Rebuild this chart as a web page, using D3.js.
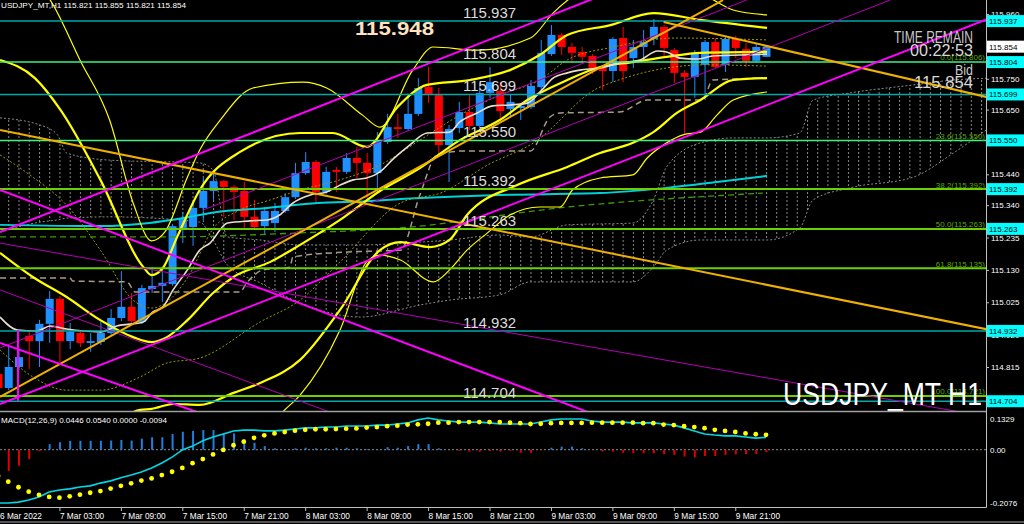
<!DOCTYPE html>
<html>
<head>
<meta charset="utf-8">
<script src="https://cdn.jsdelivr.net/npm/d3@7/dist/d3.min.js"></script>
<style>
html,body{margin:0;padding:0;background:#000;overflow:hidden;}
svg{display:block;font-family:"Liberation Sans",Arial,sans-serif;}
</style>
</head>
<body>
<svg id="chart" width="1024" height="524"></svg>
<script>
// ================= DATA =================
const symbolHeader = "USDJPY_MT,H1  115.821 115.855 115.821 115.854";
const macdHeader = "MACD(12,26,9) 0.0446 0.0540 0.0000 -0.0094";
const opens  = [114.792,114.747,114.815,114.916,114.899,114.955,115.036,114.899,114.925,114.893,114.896,114.925,114.974,115.010,114.961,115.068,115.078,115.084,115.266,115.269,115.331,115.386,115.418,115.399,115.386,115.302,115.272,115.282,115.321,115.366,115.444,115.480,115.383,115.454,115.448,115.493,115.477,115.444,115.545,115.593,115.587,115.636,115.723,115.697,115.535,115.590,115.642,115.597,115.704,115.710,115.652,115.655,115.658,115.723,115.830,115.892,115.853,115.837,115.824,115.785,115.775,115.882,115.817,115.853,115.879,115.918,115.843,115.769,115.756,115.795,115.869,115.795,115.879,115.846,115.808,115.821];
const highs  = [114.805,114.880,114.870,114.935,114.968,115.062,115.045,114.958,114.935,114.925,114.964,115.003,115.126,115.055,115.081,115.139,115.139,115.279,115.318,115.350,115.428,115.441,115.422,115.405,115.415,115.357,115.334,115.347,115.379,115.477,115.512,115.486,115.464,115.464,115.509,115.529,115.509,115.577,115.636,115.636,115.701,115.752,115.788,115.720,115.600,115.675,115.697,115.739,115.788,115.739,115.697,115.665,115.746,115.876,115.924,115.898,115.866,115.853,115.830,115.795,115.885,115.918,115.876,115.908,115.944,115.924,115.850,115.778,115.843,115.876,115.882,115.889,115.889,115.866,115.866,115.855];
const lows   = [114.734,114.740,114.805,114.809,114.815,114.893,114.831,114.873,114.880,114.864,114.886,114.919,114.964,114.958,114.955,115.055,115.026,115.078,115.217,115.208,115.292,115.357,115.302,115.292,115.266,115.266,115.243,115.253,115.315,115.360,115.438,115.350,115.376,115.383,115.441,115.428,115.363,115.383,115.538,115.558,115.580,115.629,115.671,115.506,115.415,115.574,115.584,115.590,115.688,115.623,115.626,115.616,115.652,115.713,115.824,115.827,115.804,115.804,115.765,115.713,115.739,115.739,115.785,115.811,115.859,115.817,115.736,115.568,115.688,115.681,115.785,115.772,115.817,115.788,115.804,115.821];
const closes = [114.747,114.815,114.847,114.899,114.955,115.036,114.899,114.929,114.893,114.899,114.925,114.974,115.010,114.964,115.071,115.078,115.088,115.272,115.298,115.331,115.386,115.418,115.399,115.383,115.302,115.269,115.321,115.321,115.366,115.444,115.480,115.383,115.448,115.448,115.493,115.477,115.444,115.551,115.593,115.587,115.636,115.720,115.701,115.535,115.587,115.642,115.597,115.704,115.739,115.645,115.675,115.662,115.727,115.834,115.892,115.853,115.834,115.821,115.782,115.775,115.879,115.775,115.853,115.869,115.918,115.850,115.769,115.756,115.834,115.869,115.788,115.879,115.850,115.808,115.853,115.854];

const timeTickIdx = [0,6,12,18,24,30,36,42,48,54,60,66,72];
const timeTickLabels = ["6 Mar 2022","7 Mar 03:00","7 Mar 09:00","7 Mar 15:00","7 Mar 21:00","8 Mar 03:00","8 Mar 09:00","8 Mar 15:00","8 Mar 21:00","9 Mar 03:00","9 Mar 09:00","9 Mar 15:00","9 Mar 21:00"];
const priceTicks = [115.960,115.750,115.650,115.440,115.340,115.235,115.130,115.025,114.920,114.815];
const currentPrice = 115.854;
const srLevels = [115.937,115.804,115.699,115.550,115.392,115.263,114.932,114.704];
const fiboLevels = [115.806,115.550,115.392,115.263,115.135,114.721];
const fiboNames  = ["0.0","23.6","38.2","50.0","61.8","100.0"];
const dayHigh = 115.948;
const timeRemain = "00:22:53";
const macdAxisVals = [0.1329, 0.00, -0.2076];
const macdAxisLabels = ["0.1329","0.00","-0.2076"];

const macdMain = [-0.193,-0.193,-0.190,-0.182,-0.171,-0.153,-0.146,-0.142,-0.135,-0.131,-0.121,-0.113,-0.102,-0.092,-0.081,-0.066,-0.048,-0.027,-0.001,0.013,0.032,0.046,0.057,0.068,0.071,0.071,0.068,0.068,0.071,0.075,0.079,0.079,0.082,0.082,0.086,0.086,0.086,0.089,0.089,0.093,0.097,0.108,0.115,0.108,0.104,0.100,0.100,0.100,0.097,0.093,0.093,0.093,0.093,0.100,0.108,0.111,0.111,0.111,0.104,0.100,0.100,0.100,0.097,0.097,0.097,0.093,0.089,0.079,0.068,0.057,0.053,0.050,0.050,0.046,0.042,0.0446];
const macdSignal = [-0.095,-0.116,-0.136,-0.152,-0.164,-0.171,-0.174,-0.169,-0.163,-0.156,-0.150,-0.141,-0.131,-0.122,-0.112,-0.104,-0.092,-0.080,-0.066,-0.049,-0.034,-0.017,-0.001,0.016,0.029,0.043,0.052,0.059,0.064,0.069,0.072,0.074,0.074,0.075,0.076,0.077,0.080,0.082,0.085,0.087,0.091,0.092,0.094,0.098,0.098,0.100,0.100,0.100,0.100,0.100,0.098,0.096,0.093,0.094,0.096,0.097,0.097,0.097,0.098,0.098,0.098,0.098,0.098,0.096,0.096,0.091,0.089,0.085,0.082,0.078,0.072,0.068,0.064,0.059,0.056,0.054];
const macdHist = [-0.090,-0.077,-0.058,-0.034,-0.006,0.020,0.027,0.032,0.032,0.032,0.032,0.033,0.035,0.033,0.040,0.045,0.045,0.057,0.065,0.068,0.071,0.071,0.059,0.059,0.038,0.025,0.013,0.005,0.002,0.005,0.007,0.005,0.005,0.007,0.007,0.005,0.002,0.002,0.009,0.007,0.013,0.020,0.020,0.005,0.000,-0.004,-0.007,-0.007,-0.005,-0.007,-0.004,-0.011,-0.011,-0.002,0.007,0.011,0.011,0.005,0.000,-0.007,-0.007,-0.011,-0.013,-0.013,-0.013,-0.016,-0.019,-0.025,-0.028,-0.023,-0.023,-0.019,-0.017,-0.016,-0.016,-0.0094];

// indicator lines, [bar index, price]
const maFast = [[0.2,114.977],[1.9,114.935],[3.8,114.932],[5.1,114.948],[6.7,114.938],[10.0,114.929],[11.6,114.948],[14.2,114.961],[15.1,114.993],[16.1,115.010],[17.1,115.065],[18.5,115.130],[19.7,115.194],[20.7,115.217],[22.4,115.282],[24.6,115.289],[26.3,115.292],[27.5,115.308],[28.8,115.347],[30.5,115.373],[32.1,115.383],[33.4,115.405],[34.7,115.422],[36.0,115.428],[37.3,115.448],[38.6,115.490],[40.2,115.535],[41.9,115.574],[44.1,115.577],[45.1,115.610],[46.8,115.639],[48.3,115.662],[50.0,115.665],[51.7,115.671],[53.1,115.713],[54.2,115.752],[55.6,115.769],[56.8,115.778],[58.8,115.785],[60.7,115.801],[62.7,115.811],[64.4,115.840],[65.3,115.837],[66.6,115.817],[68.3,115.814],[69.8,115.824],[72.5,115.827],[75.1,115.830]];
const maSlow = [[0.2,115.276],[10.0,115.272],[14.8,115.282],[18.1,115.298],[21.4,115.318],[26.3,115.331],[31.2,115.347],[36.0,115.353],[39.3,115.360],[49.0,115.373],[58.8,115.379],[65.3,115.396],[70.2,115.415],[75.1,115.435]];
const maGreen = [[0.2,115.237],[16.5,115.237],[29.5,115.250],[39.3,115.266],[55.6,115.334],[74.7,115.379]];
const kijun = [[0.2,115.104],[7.0,115.104],[7.3,115.094],[12.6,115.091],[13.4,115.058],[23.6,115.058],[24.3,115.088],[25.9,115.130],[28.5,115.139],[28.8,115.172],[34.1,115.188],[39.3,115.194],[41.2,115.373],[42.9,115.503],[45.6,115.516],[52.0,115.516],[53.9,115.626],[54.9,115.639],[60.7,115.642],[63.4,115.681],[68.8,115.681],[69.8,115.746],[75.1,115.752]];
const bbMid = [[0.2,115.185],[3.4,115.107],[6.7,115.042],[10.0,114.967],[13.2,114.912],[15.0,114.896],[16.5,114.912],[18.5,114.967],[21.0,115.055],[23.0,115.107],[26.6,115.156],[29.5,115.211],[33.4,115.292],[37.3,115.386],[41.2,115.460],[45.1,115.551],[49.0,115.616],[51.7,115.681],[55.6,115.746],[58.8,115.788],[62.0,115.804],[65.3,115.821],[68.6,115.834],[75.1,115.837]];
const bbUp1 = [[0.2,115.503],[3.4,115.431],[6.7,115.340],[10.0,115.194],[13.2,115.032],[15.0,115.006],[16.5,115.026],[18.5,115.104],[21.0,115.263],[23.6,115.324],[26.6,115.357],[29.5,115.389],[33.4,115.422],[37.3,115.470],[41.2,115.551],[45.1,115.632],[49.0,115.697],[52.9,115.746],[55.6,115.811],[60.1,115.853],[66.3,115.882],[75.1,115.876]];
const bbLo1 = [[0.2,114.870],[3.4,114.783],[6.7,114.740],[10.0,114.740],[13.9,114.783],[16.5,114.828],[19.7,114.844],[25.6,114.961],[29.5,115.032],[33.4,115.156],[39.3,115.347],[43.5,115.383],[47.8,115.470],[52.3,115.542],[58.8,115.723],[69.2,115.795],[75.1,115.791]];
const bbUp2 = [[0.2,115.811],[3.6,115.752],[6.1,115.649],[10.0,115.422],[14.2,115.139],[15.0,115.113],[16.1,115.136],[17.5,115.237],[19.7,115.389],[23.6,115.512],[29.5,115.574],[32.7,115.574],[36.0,115.529],[39.0,115.658],[41.9,115.730],[46.1,115.746],[50.0,115.778],[52.9,115.827],[55.6,115.892],[59.8,115.924],[64.0,115.963],[68.6,115.941],[75.1,115.915]];
const bbLo2 = [[10.0,114.578],[13.9,114.676],[15.0,114.679],[17.1,114.695],[19.7,114.692],[23.0,114.731],[25.6,114.763],[29.5,114.838],[33.4,115.000],[37.3,115.194],[39.3,115.220],[42.2,115.204],[44.1,115.227],[45.8,115.308],[50.7,115.405],[55.6,115.464],[58.8,115.509],[62.0,115.542],[64.0,115.577],[66.3,115.639],[68.6,115.681],[71.8,115.746],[75.1,115.752]];
const bbUp3 = [[2.0,116.103],[5.1,116.005],[8.0,115.811],[10.9,115.616],[13.2,115.347],[15.0,115.224],[16.3,115.253],[18.5,115.431],[19.7,115.519],[21.7,115.616],[24.9,115.720],[29.8,115.739],[32.1,115.720],[35.6,115.632],[37.3,115.593],[40.5,115.778],[42.5,115.853],[46.8,115.843],[52.0,115.882],[54.2,115.963],[56.3,116.022],[62.7,116.103],[69.5,116.012],[71.8,115.973],[75.1,115.957]];
const bbLo3 = [[25.6,114.578],[27.8,114.669],[29.5,114.724],[33.4,114.935],[36.0,115.156],[37.3,115.178],[39.3,115.162],[42.5,115.091],[44.1,115.130],[45.8,115.194],[47.8,115.250],[50.0,115.308],[52.9,115.334],[54.9,115.334],[56.1,115.389],[58.8,115.428],[62.0,115.438],[63.4,115.493],[65.3,115.542],[66.9,115.568],[68.6,115.577],[70.2,115.632],[71.8,115.681],[75.1,115.707]];

// Ichimoku cloud (spans shifted forward)
const cloudIdx = [0.2,4.1,5.8,6.7,10.9,19.7,21.0,22.4,25.6,29.5,35.4,41.2,44.1,49.0,52.0,55.6,62.0,64.0,65.3,68.6,71.8,75.1,78.3,79.6,83.2,89.4,93.3,96.9];
const cloudA = [115.623,115.600,115.568,115.509,115.486,115.477,115.454,115.237,115.227,115.211,115.211,115.220,115.227,115.243,115.237,115.276,115.282,115.357,115.464,115.542,115.558,115.558,115.574,115.681,115.704,115.730,115.746,115.752];
const cloudB = [115.253,115.285,115.292,115.298,115.302,115.285,115.227,115.146,115.088,115.023,114.977,115.016,115.032,115.049,115.091,115.091,115.091,115.139,115.194,115.227,115.227,115.227,115.266,115.357,115.396,115.431,115.509,115.593];

// trend lines [idx1, price1, idx2, price2]
const trendMagenta = [[0.2,115.253,60.7,116.043],[0.2,114.695,96.9,115.947],[0.2,115.389,60.7,114.630],[0.2,114.893,19.7,114.666],[1.95,114.935,1.95,114.705]];
const trendPurple  = [[0.2,114.877,87.1,116.005],[20.0,115.324,73.1,116.005],[0.2,115.065,32.4,114.669],[0.2,115.217,94.0,114.669]];
const trendOrange  = [[0.2,115.584,96.9,114.935],[65.0,115.934,96.9,115.688],[0.2,114.718,70.8,116.005]];

// ================= DRAW =================
const svg = d3.select("#chart");
const PLOT_R = 986, MAIN_B = 411, MACD_T = 413, MACD_B = 507;
const x = d3.scaleLinear().domain([0, 75]).range([-2, 766]);
const y = d3.scaleLinear().domain([114.815, 115.960]).range([367, 14]);
const ym = d3.scaleLinear().domain([-0.2076, 0.1329]).range([MACD_B, MACD_T]);
const step = x(1) - x(0);

svg.append("rect").attr("width",1024).attr("height",524).attr("fill","#000");
const defs = svg.append("defs");
defs.append("clipPath").attr("id","clipMain").append("rect").attr("x",0).attr("y",0).attr("width",PLOT_R).attr("height",MAIN_B);
defs.append("clipPath").attr("id","clipMacd").append("rect").attr("x",0).attr("y",MACD_T).attr("width",PLOT_R).attr("height",MACD_B-MACD_T);
const pat = defs.append("pattern").attr("id","hatch").attr("patternUnits","userSpaceOnUse")
  .attr("x", x(0)).attr("y",0).attr("width",step).attr("height",4);
pat.append("rect").attr("x",0).attr("y",0).attr("width",1).attr("height",2).attr("fill","#8a8a8a");

const main = svg.append("g").attr("clip-path","url(#clipMain)");

// cloud
const cloudArea = d3.area().x(i=>x(cloudIdx[i])).y0(i=>y(cloudA[i])).y1(i=>y(cloudB[i])).curve(d3.curveMonotoneX);
main.append("path").datum(d3.range(cloudIdx.length)).attr("d",cloudArea).attr("fill","url(#hatch)");
const cl = d3.line().curve(d3.curveMonotoneX);
main.append("path").attr("d", cl(cloudIdx.map((v,i)=>[x(v),y(cloudA[i])]))).attr("fill","none").attr("stroke","#8a8a8a").attr("stroke-dasharray","2,2");
main.append("path").attr("d", cl(cloudIdx.map((v,i)=>[x(v),y(cloudB[i])]))).attr("fill","none").attr("stroke","#8a8a8a").attr("stroke-dasharray","2,2");

// candles
const cg = main.append("g");
opens.forEach((o,i)=>{
  const c = closes[i], up = c >= o, col = up ? "#1e90ff" : "#ff0000";
  cg.append("line").attr("x1",x(i)+0.5).attr("x2",x(i)+0.5).attr("y1",y(highs[i])).attr("y2",y(lows[i])).attr("stroke",col).attr("stroke-width",1);
  const top = y(Math.max(o,c)), bot = y(Math.min(o,c));
  cg.append("rect").attr("x",x(i)-3.5).attr("width",8).attr("y",top).attr("height",Math.max(1,bot-top)).attr("fill",col);
});

// indicator lines
const lineGen = d3.line().x(d=>x(d[0])).y(d=>y(d[1])).curve(d3.curveMonotoneX);
function draw(data, color, w, dash){
  main.append("path").datum(data).attr("d",lineGen).attr("fill","none")
    .attr("stroke",color).attr("stroke-width",w).attr("stroke-dasharray",dash||null);
}
draw(kijun,"#a89a8a",1.5,"6,4");
draw(maGreen,"#3d9a00",1.3,"6,4");
draw(maSlow,"#00d0d8",2);
draw(bbUp1,"#9a9a00",1,"2,2");
draw(bbLo1,"#9a9a00",1,"2,2");
draw(bbUp3,"#ffff00",1.2);
draw(bbLo3,"#ffff00",1.2);
draw(bbUp2,"#ffff00",2.2);
draw(bbLo2,"#ffff00",2.2);
draw(bbMid,"#ffff00",2.2);
draw(maFast,"#eadfce",1.6);

// horizontal S/R + fibo
const srColor = l => (l===115.804||l===115.550) ? "#40f080" : "#00a8a8";
srLevels.forEach(l=>{
  main.append("line").attr("x1",0).attr("x2",PLOT_R).attr("y1",y(l)).attr("y2",y(l)).attr("stroke",srColor(l)).attr("stroke-width",1.5);
});
fiboLevels.forEach((l,i)=>{
  if (i<2) return;
  main.append("line").attr("x1",0).attr("x2",PLOT_R).attr("y1",y(l)).attr("y2",y(l)).attr("stroke","#6cd000").attr("stroke-width",2);
});

// trend lines
function seg(arr,color,w){
  arr.forEach(s=>main.append("line").attr("x1",x(s[0])).attr("y1",y(s[1])).attr("x2",x(s[2])).attr("y2",y(s[3])).attr("stroke",color).attr("stroke-width",w));
}
seg(trendPurple,"#b400b4",1);
seg(trendOrange,"#f0b000",2);
seg(trendMagenta,"#ff00ff",2);

// texts in main
const font = "'Liberation Sans',Arial,sans-serif";
srLevels.forEach(l=>{
  main.append("text").attr("x",463).attr("y",y(l)-3).text(l.toFixed(3))
    .attr("fill","#dcdcdc").attr("font-size",15).attr("font-family",font);
});
fiboLevels.forEach((l,i)=>{
  main.append("text").attr("x",985).attr("y",y(l)-1.5).attr("text-anchor","end")
    .text(fiboNames[i]+"("+l.toFixed(3)+")").attr("fill","#5aa800").attr("font-size",8).attr("font-family",font);
});
svg.append("text").attr("x",355).attr("y",35).text(dayHigh.toFixed(3)).attr("fill","#ffe2c0")
  .attr("font-weight","bold").attr("font-size",18).attr("textLength",79).attr("lengthAdjust","spacingAndGlyphs").attr("font-family",font);
function rtext(str, right, base, size, len, col){
  svg.append("text").attr("x",right-len).attr("y",base).text(str).attr("fill",col).attr("font-size",size)
    .attr("textLength",len).attr("lengthAdjust","spacingAndGlyphs").attr("font-family",font);
}
rtext("TIME REMAIN",973,43,16,79,"#c8c8c8");
rtext(timeRemain,973,56,17,63,"#d8d8d8");
rtext("Bid",973,75,14,18,"#c8c8c8");
rtext(currentPrice.toFixed(3),973,88,17,59,"#d8d8d8");
svg.append("text").attr("x",783).attr("y",405).text("USDJPY_MT H1").attr("fill","#ffffff").attr("font-size",32)
  .attr("textLength",199).attr("lengthAdjust","spacingAndGlyphs").attr("font-family",font);
svg.append("text").attr("x",1).attr("y",8).text(symbolHeader).attr("fill","#ffffff").attr("font-size",8).attr("font-family",font)
  .attr("textLength",185).attr("lengthAdjust","spacingAndGlyphs");

// price axis
const pa = svg.append("g").attr("transform",`translate(${PLOT_R},0)`)
  .call(d3.axisRight(y).tickValues(priceTicks).tickFormat(d3.format(".3f")).tickSize(3).tickPadding(2));
pa.attr("font-size",8).attr("font-family",font);
pa.select(".domain").remove();
pa.selectAll(".tick line").attr("stroke","#c0c0c0");
pa.selectAll("text").attr("fill","#ffffff");
srLevels.forEach(l=>{
  svg.append("rect").attr("x",987).attr("y",y(l)-6).attr("width",37).attr("height",12).attr("fill","#00ffff");
  svg.append("text").attr("x",989).attr("y",y(l)+3).text(l.toFixed(3)).attr("fill","#000").attr("font-size",8).attr("font-family",font);
});
svg.append("rect").attr("x",987).attr("y",y(currentPrice)-6).attr("width",37).attr("height",12).attr("fill","#ffffff");
svg.append("text").attr("x",989).attr("y",y(currentPrice)+3).text(currentPrice.toFixed(3)).attr("fill","#000").attr("font-size",8).attr("font-family",font);

// ================= MACD =================
const mg = svg.append("g").attr("clip-path","url(#clipMacd)");
mg.append("line").attr("x1",0).attr("x2",PLOT_R).attr("y1",ym(0)).attr("y2",ym(0)).attr("stroke","#909090").attr("stroke-dasharray","2,2");
macdHist.forEach((v,i)=>{
  if (v===0) return;
  mg.append("rect").attr("x",x(i)-0.5).attr("width",2).attr("y",Math.min(ym(v),ym(0))).attr("height",Math.abs(ym(v)-ym(0)))
    .attr("fill", v>0 ? "#1e7fe0" : "#e00000");
});
mg.append("path").datum(macdMain).attr("d",d3.line().x((d,i)=>x(i)).y(d=>ym(d))).attr("fill","none").attr("stroke","#00d8e8").attr("stroke-width",1.6);
macdSignal.forEach((v,i)=>{
  mg.append("circle").attr("cx",x(i)).attr("cy",ym(v)).attr("r",2.4).attr("fill","#ffff00");
});
svg.append("text").attr("x",1).attr("y",423).text(macdHeader).attr("fill","#ffffff").attr("font-size",8).attr("font-family",font)
  .attr("textLength",166).attr("lengthAdjust","spacingAndGlyphs");
const macdLabelOffset = [9,3,-1];
macdAxisVals.forEach((v,i)=>{
  svg.append("text").attr("x",990).attr("y",ym(v)+macdLabelOffset[i]).text(macdAxisLabels[i]).attr("fill","#ffffff").attr("font-size",8).attr("font-family",font);
});

// time axis
timeTickIdx.forEach((t,i)=>{
  svg.append("line").attr("x1",x(t)+0.5).attr("x2",x(t)+0.5).attr("y1",MACD_B).attr("y2",MACD_B+4).attr("stroke","#c0c0c0");
  svg.append("text").attr("x", i===0 ? 0 : x(t)+0.5).attr("y",518.5).text(timeTickLabels[i])
    .attr("fill","#ffffff").attr("font-size",8.3).attr("font-family",font);
});

// frame lines
svg.append("line").attr("x1",0).attr("x2",PLOT_R).attr("y1",411.5).attr("y2",411.5).attr("stroke","#a0a0a0").attr("stroke-width",1.5);
svg.append("line").attr("x1",0).attr("x2",PLOT_R+0.5).attr("y1",MACD_B+0.5).attr("y2",MACD_B+0.5).attr("stroke","#c0c0c0");
svg.append("line").attr("x1",PLOT_R+0.5).attr("x2",PLOT_R+0.5).attr("y1",0).attr("y2",MACD_B+0.5).attr("stroke","#c0c0c0");
svg.append("line").attr("x1",0).attr("x2",1024).attr("y1",522).attr("y2",522).attr("stroke","#707070").attr("stroke-width",1.5);
</script>
</body>
</html>
